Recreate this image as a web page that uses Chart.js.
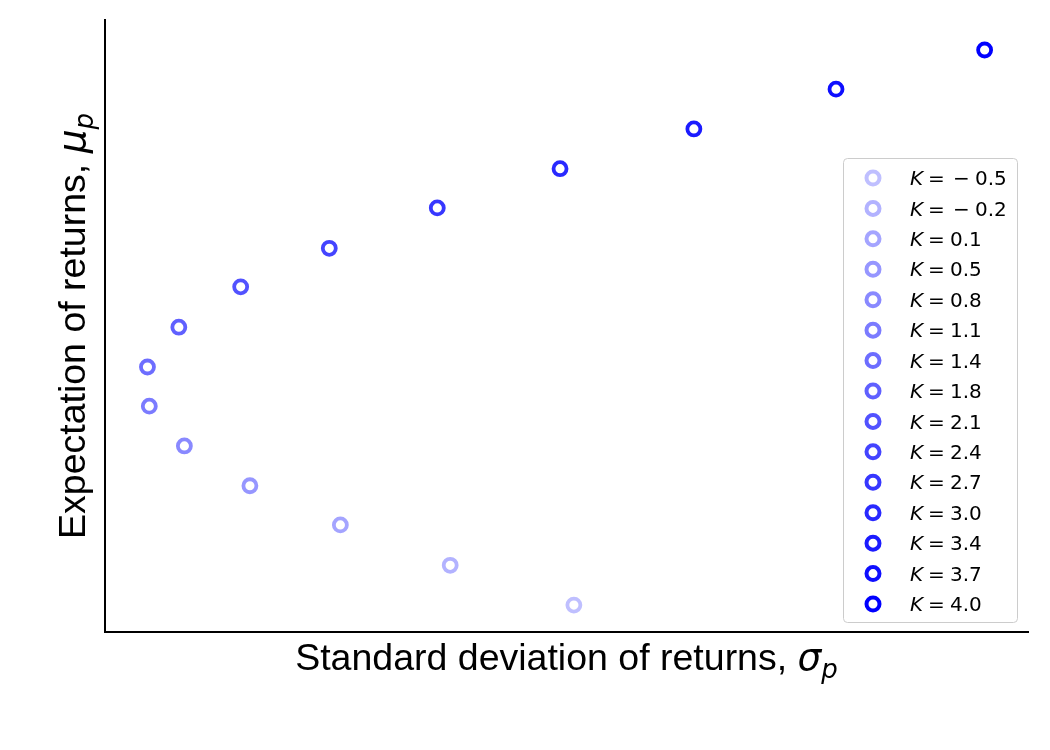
<!DOCTYPE html>
<html>
<head>
<meta charset="utf-8">
<script src="https://cdn.jsdelivr.net/npm/chart.js@4.4.1/dist/chart.umd.min.js"></script>
<style>
  body { margin: 0; background: #fff; }
  #wrap { width: 1050px; height: 750px; }
</style>
</head>
<body>
<div id="wrap"><canvas id="c" width="1050" height="750"></canvas></div>
<script>
// values (no ticks in the original, so units are arbitrary)
const kValues = ['−0.5', '−0.2', '0.1', '0.5', '0.8', '1.1', '1.4', '1.8', '2.1', '2.4', '2.7', '3.0', '3.4', '3.7', '4.0'];
const sigma = [50.8, 37.4, 25.5, 15.7, 8.6, 4.8, 4.6, 8.0, 14.7, 24.3, 36.0, 49.3, 63.8, 79.2, 95.3];
const mu = [4.4, 10.9, 17.5, 23.9, 30.4, 36.9, 43.3, 49.8, 56.4, 62.7, 69.3, 75.7, 82.2, 88.7, 95.1];

function shade(i) {
    // light blue -> pure blue
    const a = 0.25 + 0.75 * i / (kValues.length - 1);
    const c = Math.round(255 * (1 - a));
    return 'rgb(' + c + ',' + c + ',255)';
}

const datasets = kValues.map((k, i) => ({
    label: 'K = ' + k,
    data: [{ x: sigma[i], y: mu[i] }],
    borderColor: shade(i),
    backgroundColor: 'rgba(0,0,0,0)',
    pointRadius: 6.5,
    pointBorderWidth: 3.8,
    pointHoverRadius: 6.5
}));

// draw a string made of pieces with different fonts, centred on x
function drawParts(ctx, parts, x, y) {
    let total = 0;
    parts.forEach(p => { ctx.font = p.font; total += ctx.measureText(p.text).width; });
    let cx = x - total / 2;
    parts.forEach(p => {
        ctx.font = p.font;
        ctx.fillText(p.text, cx, y + (p.dy || 0));
        cx += ctx.measureText(p.text).width;
    });
}

const decorations = {
    id: 'decorations',
    afterDraw(chart) {
        const ctx = chart.ctx;
        const area = chart.chartArea;
        ctx.save();
        ctx.fillStyle = '#000';
        ctx.textBaseline = 'alphabetic';

        // x title
        drawParts(ctx, [
            { text: 'Standard deviation of returns, ', font: '37.5px "Liberation Sans", Arial' },
            { text: 'σ', font: 'italic 37.5px "DejaVu Sans"' },
            { text: 'p', font: 'italic 26px "DejaVu Sans"', dy: 8 }
        ], (area.left + area.right) / 2, 670);

        // y title
        ctx.save();
        ctx.translate(85, (area.top + area.bottom) / 2);
        ctx.rotate(-Math.PI / 2);
        drawParts(ctx, [
            { text: 'Expectation of returns, ', font: '37.5px "Liberation Sans", Arial' },
            { text: 'μ', font: 'italic 37.5px "DejaVu Sans"' },
            { text: 'p', font: 'italic 26px "DejaVu Sans"', dy: 8 }
        ], 0, 0);
        ctx.restore();

        // legend inside the plot
        const bx = 843, by = 158, bw = 174, bh = 464;
        ctx.beginPath();
        ctx.roundRect(bx + 0.5, by + 0.5, bw, bh, 4);
        ctx.fillStyle = 'rgba(255,255,255,0.8)';
        ctx.fill();
        ctx.strokeStyle = '#cccccc';
        ctx.lineWidth = 1;
        ctx.stroke();

        const rowGap = (604 - 178) / (kValues.length - 1);
        chart.data.datasets.forEach((ds, i) => {
            const yy = 178 + i * rowGap;
            ctx.beginPath();
            ctx.arc(873, yy, 6.5, 0, Math.PI * 2);
            ctx.strokeStyle = ds.borderColor;
            ctx.lineWidth = 4;
            ctx.stroke();

            ctx.fillStyle = '#000';
            ctx.textBaseline = 'middle';
            const ty = yy + 2;
            ctx.font = 'italic 20px "DejaVu Sans"';
            ctx.fillText('K', 910, ty);
            ctx.font = '20px "DejaVu Sans"';
            ctx.fillText('=', 928, ty);
            const v = kValues[i];
            if (v.startsWith('−')) {
                ctx.fillText('−', 953, ty);
                ctx.fillText(v.slice(1), 975, ty);
            } else {
                ctx.fillText(v, 950, ty);
            }
        });
        ctx.restore();
    }
};

new Chart(document.getElementById('c'), {
    type: 'scatter',
    data: { datasets: datasets },
    options: {
        responsive: false,
        animation: false,
        layout: { padding: { left: 105, top: 20, right: 22, bottom: 118 } },
        plugins: { legend: { display: false }, tooltip: { enabled: false } },
        scales: {
            x: {
                min: 0, max: 100,
                ticks: { display: false },
                grid: { display: false, drawTicks: false, tickLength: 0 },
                border: { color: '#000', width: 2 }
            },
            y: {
                min: 0, max: 100,
                ticks: { display: false },
                grid: { display: false, drawTicks: false, tickLength: 0 },
                border: { color: '#000', width: 2 }
            }
        }
    },
    plugins: [decorations]
});
</script>
</body>
</html>
